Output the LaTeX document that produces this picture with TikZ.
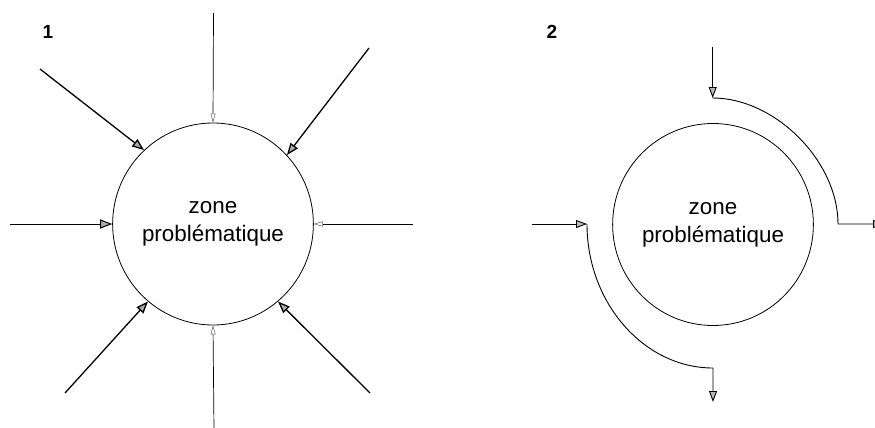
\documentclass[tikz,border=0pt]{standalone}
\usepackage{fontspec}
\newfontfamily\arialf{Liberation Sans}
\usetikzlibrary{shapes.geometric,arrows.meta}
\begin{document}
\begin{tikzpicture}[x=1pt,y=-1pt,
  zone/.style={draw,ellipse,line width=0.8pt,minimum width=188pt,minimum height=202pt,inner sep=0pt,
    align=center,font=\arialf\fontsize{22.4}{28}\selectfont},
  panel/.style={font=\arialf\bfseries\fontsize{19}{21}\selectfont},
  bigtip/.style={-{Triangle[length=12pt,width=9pt,fill=gray!65]}},
  thick arrow/.style={bigtip,line width=1.3pt},
  thin arrow/.style={line width=0.7pt,-{Triangle[open,length=9pt,width=5pt,line width=0.5pt,color=gray!70!black]}},
  flow/.style={line width=0.8pt},
  flow arrow/.style={-{Triangle[length=11pt,width=8pt,fill=gray!55]},line width=0.9pt}]
\clip (0,0) rectangle (875,428);
% panel 1
\node[panel] (l1) at (48,32) {1};
\node[zone] (c1) at (213,224) {zone\\probl\'ematique};
\coordinate (a1) at (213.5,13);
\coordinate (a2) at (40,69);
\coordinate (a3) at (369,48);
\coordinate (a4) at (10,224);
\coordinate (a5) at (413,224);
\coordinate (a6) at (65,393);
\coordinate (a7) at (214,430);
\coordinate (a8) at (370,393);
\draw[thin arrow] (a1) -- (c1.90);
\draw[thick arrow] (a2) -- (c1.133);
\draw[thick arrow] (a3) -- (c1.43);
\draw[thick arrow,line width=1pt] (a4) -- (c1.180);
\draw[thin arrow] (a5) -- (c1.0);
\draw[thick arrow] (a6) -- (c1.230);
\draw[thin arrow] (a7) -- (c1.270);
\draw[thick arrow] (a8) -- (c1.310);
% panel 2
\node[panel] (l2) at (552,32) {2};
\node[zone] (c2) at (713,224.5) {zone\\probl\'ematique};
\coordinate (t0) at (712.7,47);
\coordinate (t1) at (712.7,98);
\coordinate (t2) at (838,224);
\coordinate (t3) at (884,224);
\coordinate (b0) at (532,224);
\coordinate (b1) at (587,224);
\coordinate (b2) at (713,368);
\coordinate (b3) at (713,402);
\draw[flow arrow] (t0) -- (t1);
\draw[flow arrow] (t1) .. controls (775,98) and (838,161) .. (t2) -- (t3);
\draw[flow arrow] (b0) -- (b1);
\draw[flow arrow] (b1) .. controls (587,303) and (644,368) .. (b2) -- (b3);
\end{tikzpicture}
\end{document}
